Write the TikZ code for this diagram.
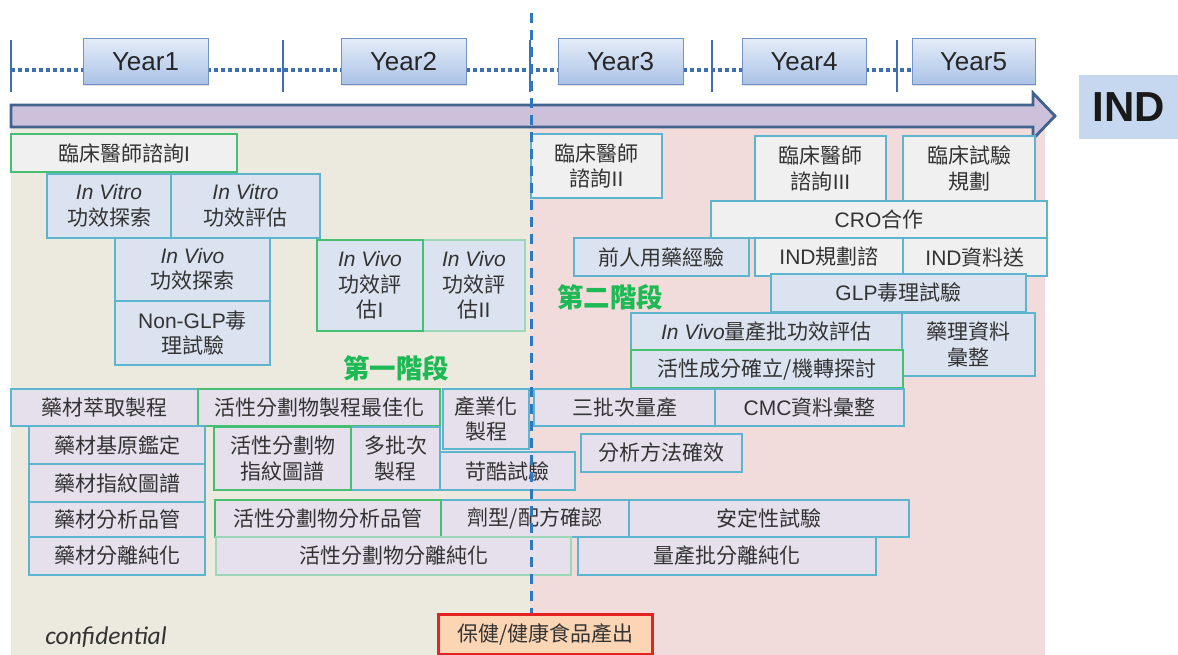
\documentclass[tikz,border=0pt]{standalone}
\usepackage{fontspec}
\setmainfont{Liberation Sans}
\newfontfamily\cjk{Noto Sans CJK TC}
\newfontfamily\latf{Liberation Sans}
\newfontfamily\conff{Carlito}
\usetikzlibrary{shadows}
\definecolor{bgbeige}{HTML}{ECE9DF}
\definecolor{bgpink}{HTML}{F2DCDB}
\definecolor{boxgray}{HTML}{F0F0F0}
\definecolor{boxblue}{HTML}{DCE3F0}
\definecolor{boxlav}{HTML}{E5E0EC}
\definecolor{bteal}{HTML}{5DB4CF}
\definecolor{bgreen}{HTML}{47BF73}
\definecolor{blgreen}{HTML}{9CD8B8}
\definecolor{txt}{HTML}{333333}
\definecolor{stagegreen}{HTML}{1DB954}
\definecolor{yeartop}{HTML}{E4ECF8}
\definecolor{yearbot}{HTML}{A9C1E6}
\definecolor{yearbd}{HTML}{7094C8}
\definecolor{tline}{HTML}{3F6FB3}
\definecolor{dline}{HTML}{2E78C0}
\definecolor{arrfill}{HTML}{CCC0DA}
\definecolor{arrbd}{HTML}{41628E}
\definecolor{indfill}{HTML}{C6D8F0}
\definecolor{peach}{HTML}{FCD5B4}
\definecolor{redbd}{HTML}{E52222}
\newcommand\lat[1]{{\latf #1}}
\newcommand\latit[1]{{\latf\itshape #1}}
\newcommand\boxat[7]{\node[#6, minimum width={(#4-#2)*1pt}, minimum height={(#5-#3)*1pt}] (#1) at ({(#2+#4)/2},{(#3+#5)/2}) {#7};}
\tikzset{
  bx/.style={draw, line width=1.1pt, inner sep=0pt, align=center, text=txt,
             font=\cjk\fontsize{21}{25.5}\selectfont},
  gryT/.style={bx, fill=boxgray, draw=bteal},
  gryG/.style={bx, fill=boxgray, draw=bgreen},
  bluT/.style={bx, fill=boxblue, draw=bteal},
  bluG/.style={bx, fill=boxblue, draw=bgreen},
  bluL/.style={bx, fill=boxblue, draw=blgreen},
  lavT/.style={bx, fill=boxlav, draw=bteal},
  lavG/.style={bx, fill=boxlav, draw=bgreen},
  lavL/.style={bx, fill=boxlav, draw=blgreen},
  yearbox/.style={draw=yearbd, line width=1pt, top color=yeartop, bottom color=yearbot,
             minimum width=125pt, minimum height=46pt, inner sep=0pt, text=black!85,
             font=\latf\fontsize{26}{30}\selectfont,
             drop shadow={shadow xshift=1.2pt, shadow yshift=-1.2pt, opacity=0.25}},
  tick/.style={draw=tline, line width=2.5pt},
  stage/.style={text=stagegreen, font=\cjk\bfseries\fontsize{26.5}{30}\selectfont, inner sep=0pt}
}
\begin{document}
\begin{tikzpicture}[x=1pt,y=-1pt]
\useasboundingbox (0,0) rectangle (1178,655);
% backgrounds
\fill[bgbeige] (11,128) rectangle (530,655);
\fill[bgpink] (530,128) rectangle (1045,655);
% timeline
\coordinate (tl0) at (11,70);
\coordinate (tl1) at (912,70);
\draw[tline, line width=3.5pt, dash pattern=on 4pt off 3pt] (tl0) -- (tl1);
\foreach \xx/\nm in {11/t0,283/t1,530/t2,712/t3,897/t4}{
  \coordinate (\nm a) at (\xx,40);
  \coordinate (\nm b) at (\xx,92);
  \draw[tick] (\nm a) -- (\nm b);
}
\node[yearbox] (y1) at (145.5,62) {Year1};
\node[yearbox] (y2) at (403.5,62) {Year2};
\node[yearbox] (y3) at (620.5,62) {Year3};
\node[yearbox, minimum width=124pt] (y4) at (804,62) {Year4};
\node[yearbox, minimum width=123pt] (y5) at (973.5,62) {Year5};
% big arrow
\draw[fill=arrfill, draw=arrbd, line width=2.8pt, line join=miter]
  (11,105) -- (1033,105) -- (1033,93) -- (1055,116) -- (1033,139) -- (1033,127) -- (11,127) -- cycle;
\node[fill=indfill, minimum width=99pt, minimum height=64pt, inner sep=0pt,
      font=\latf\bfseries\fontsize{42}{46}\selectfont, text=black!90] (ind) at (1128.5,107) {IND};
% left upper boxes
\boxat{c1}{11}{134}{237}{172}{gryG}{臨床醫師諮詢\lat{I}}
\boxat{v1}{47}{174}{171}{238}{bluT}{\latit{In Vitro}\\功效探索}
\boxat{v2}{171}{174}{320}{238}{bluT}{\latit{In Vitro}\\功效評估}
\boxat{v3}{115}{238}{270}{301}{bluT}{\latit{In Vivo}\\功效探索}
\boxat{ng}{115}{301}{270}{365}{bluT}{\lat{Non-GLP}毒\\理試驗}
\boxat{e2}{423}{240}{525}{331}{bluL}{\latit{In Vivo}\\功效評\\估\lat{II}}
\boxat{e1}{317}{240}{423}{331}{bluG}{\latit{In Vivo}\\功效評\\估\lat{I}}
\node[stage] (s1) at (396,368) {第一階段};
% right upper boxes
\boxat{c2}{531}{134}{662}{198}{gryT}{臨床醫師\\諮詢\lat{II}}
\boxat{c3}{755}{136}{886}{201}{gryT}{臨床醫師\\諮詢\lat{III}}
\boxat{cp}{903}{136}{1035}{201}{gryT}{臨床試驗\\規劃}
\boxat{cro}{711}{201}{1047}{238}{gryT}{\lat{CRO}合作}
\boxat{pre}{574}{238}{749}{276}{bluT}{前人用藥經驗}
\boxat{ip}{755}{238}{903}{276}{gryT}{\lat{IND}規劃諮}
\boxat{is}{903}{238}{1047}{276}{gryT}{\lat{IND}資料送}
\boxat{glp}{771}{274}{1026}{312}{bluT}{\lat{GLP}毒理試驗}
\boxat{ivm}{631}{313}{902}{350}{bluT}{\latit{In Vivo}量產批功效評估}
\boxat{ph}{902}{313}{1035}{376}{bluT}{藥理資料\\彙整}
\boxat{ac}{631}{350}{903}{388}{bluG}{活性成分確立/機轉探討}
\node[stage] (s2) at (610,297) {第二階段};
% lower boxes
\boxat{m1}{11}{389}{198}{426}{lavT}{藥材萃取製程}
\boxat{m2}{198}{389}{440}{426}{lavG}{活性分劃物製程最佳化}
\boxat{m3}{443}{389}{529}{449}{lavT}{產業化\\製程}
\boxat{m4}{534}{389}{715}{426}{lavT}{三批次量產}
\boxat{m5}{715}{389}{904}{426}{lavT}{\lat{CMC}資料彙整}
\boxat{b1}{29}{426}{205}{464}{lavT}{藥材基原鑑定}
\boxat{b2}{29}{464}{205}{502}{lavT}{藥材指紋圖譜}
\boxat{b3}{29}{502}{205}{537}{lavT}{藥材分析品管}
\boxat{b4}{29}{537}{205}{575}{lavT}{藥材分離純化}
\boxat{f2}{351}{427}{440}{490}{lavT}{多批次\\製程}
\boxat{f1}{214}{427}{351}{490}{lavG}{活性分劃物\\指紋圖譜}
\boxat{hk}{440}{452}{575}{490}{lavT}{苛酷試驗}
\boxat{am}{581}{434}{742}{472}{lavT}{分析方法確效}
\boxat{q2}{441}{500}{629}{537}{lavT}{劑型/配方確認}
\boxat{st}{629}{500}{909}{537}{lavT}{安定性試驗}
\boxat{q1}{215}{500}{441}{537}{lavG}{活性分劃物分析品管}
\boxat{p1}{216}{537}{571}{575}{lavL}{活性分劃物分離純化}
\boxat{p2}{578}{537}{876}{575}{lavT}{量產批分離純化}
% dashed phase divider
\coordinate (dv0) at (531,13);
\coordinate (dv1) at (531,614);
\draw[dline, line width=3pt, dash pattern=on 10pt off 7pt] (dv0) -- (dv1);
\boxat{hf}{439}{615}{652}{654}{bx}{保健/健康食品產出}
\path[draw=redbd, line width=2.2pt] (hf.north west) rectangle (hf.south east);
\fill[peach] ([shift={(1.1pt,-1.1pt)}]hf.north west) rectangle ([shift={(-1.1pt,1.1pt)}]hf.south east);
\node[text=txt, font=\cjk\fontsize{21}{25.5}\selectfont] (hft) at (hf.center) {保健/健康食品產出};
\node[text=black!80, font=\conff\itshape\fontsize{25.5}{28}\selectfont, inner sep=0pt] (conf) at (106,637) {confidential};
\end{tikzpicture}
\end{document}
